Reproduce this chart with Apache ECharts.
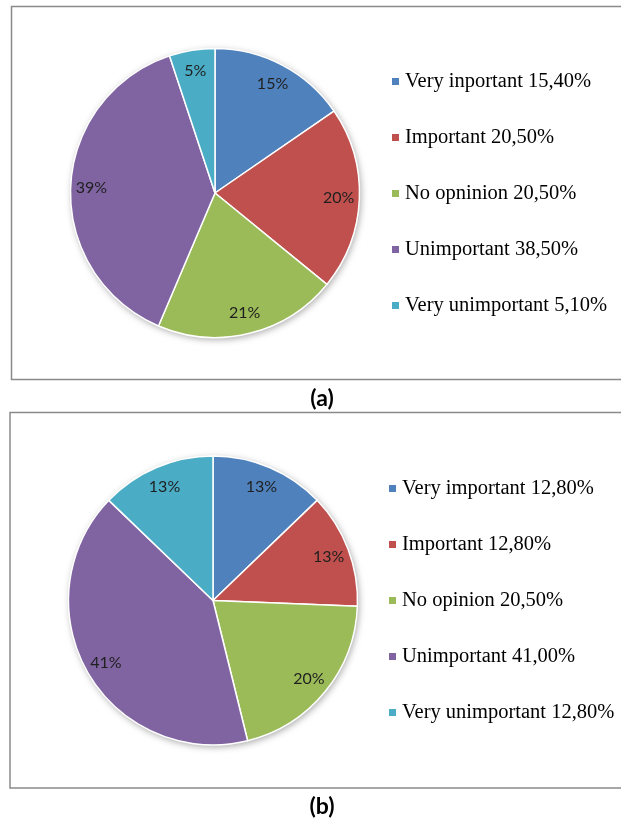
<!DOCTYPE html>
<html>
<head>
<meta charset="utf-8">
<script src="https://cdn.jsdelivr.net/npm/echarts@6/dist/echarts.min.js"></script>
<style>
  html, body { margin: 0; padding: 0; background: #ffffff; }
  #chart { width: 621px; height: 819px; }
</style>
</head>
<body>
<div id="chart"></div>
<script>
// Survey answers, panel (a)
var categoriesA = ['Very inportant', 'Important', 'No opninion', 'Unimportant', 'Very unimportant'];
var valuesA = [15.4, 20.5, 20.5, 38.5, 5.1];
var sliceLabelsA = ['15%', '20%', '21%', '39%', '5%'];

// Survey answers, panel (b)
var categoriesB = ['Very important', 'Important', 'No opinion', 'Unimportant', 'Very unimportant'];
var valuesB = [12.8, 12.8, 20.5, 41.0, 12.8];
var sliceLabelsB = ['13%', '13%', '20%', '41%', '13%'];

var captions = ['(a)', '(b)'];

var palette = ['#4F81BD', '#C0504D', '#9BBB59', '#8064A2', '#4BACC6'];

function legendName(cat, v) {
  return cat + ' ' + v.toFixed(2).replace('.', ',') + '%';
}

function buildItems(cats, vals) {
  return cats.map(function (c, i) {
    return { name: legendName(c, vals[i]), value: vals[i], itemStyle: { color: palette[i] } };
  });
}

function sum(arr) { return arr.reduce(function (a, b) { return a + b; }, 0); }

var itemsA = buildItems(categoriesA, valuesA);
var itemsB = buildItems(categoriesB, valuesB);

var R = 144.5;

function panelSeries(items, vals, labels, center) {
  return [
    // soft drop shadow under the whole pie
    {
      type: 'pie', center: center, radius: [0, R], silent: true, z: 1,
      label: { show: false }, labelLine: { show: false },
      data: [{ value: sum(vals), name: '' }],
      itemStyle: { color: '#ffffff', shadowBlur: 7, shadowColor: 'rgba(0,0,0,0.35)', shadowOffsetX: 1.5, shadowOffsetY: 2 },
      emphasis: { disabled: true }, tooltip: { show: false }
    },
    // the slices
    {
      type: 'pie', center: center, radius: [0, R], startAngle: 90, clockwise: true, z: 2,
      silent: true,
      label: { show: false }, labelLine: { show: false },
      itemStyle: { borderColor: '#ffffff', borderWidth: 1.5 },
      emphasis: { disabled: true },
      data: items
    },
    // transparent ring carrying the percentage labels near the rim
    {
      type: 'pie', center: center, radius: [97, R], startAngle: 90, clockwise: true, z: 3,
      silent: true,
      itemStyle: { color: 'rgba(0,0,0,0)' },
      emphasis: { disabled: true },
      label: {
        show: true, position: 'inside',
        fontFamily: 'Lato', fontSize: 16, color: '#1f1f1f',
        formatter: function (p) { return labels[p.dataIndex]; }
      },
      labelLine: { show: false },
      data: items.map(function (d) { return { name: d.name, value: d.value }; })
    }
  ];
}

function legendFor(items, left, top) {
  return {
    orient: 'vertical', left: left, top: top, padding: 0,
    itemWidth: 9, itemHeight: 9, itemGap: 35, icon: 'rect',
    selectedMode: false,
    textStyle: { fontFamily: 'Liberation Serif', fontSize: 20.5, color: '#000000', lineHeight: 20 },
    data: items.map(function (d) { return d.name; })
  };
}

var chart = echarts.init(document.getElementById('chart'), null, { renderer: 'canvas' });

var captionStyle = { fontFamily: 'Lato', fontWeight: 'bold', fontSize: 23, color: '#000000' };

chart.setOption({
  animation: false,
  backgroundColor: '#ffffff',
  color: palette,
  graphic: [
    { type: 'rect', shape: { x: 11.5, y: 6.5, width: 640, height: 373 }, style: { fill: 'none', stroke: '#8a8a8a', lineWidth: 1.5 }, silent: true },
    { type: 'rect', shape: { x: 10, y: 412.5, width: 640, height: 375.5 }, style: { fill: 'none', stroke: '#8a8a8a', lineWidth: 1.5 }, silent: true }
  ],
  title: [
    { text: captions[0], left: 322, top: 387, padding: 0, textAlign: 'center', textStyle: captionStyle },
    { text: captions[1], left: 322, top: 795, padding: 0, textAlign: 'center', textStyle: captionStyle }
  ],
  legend: [
    legendFor(itemsA, 390, 71),
    legendFor(itemsB, 387, 478)
  ],
  series: [].concat(
    panelSeries(itemsA, valuesA, sliceLabelsA, [215, 193]),
    panelSeries(itemsB, valuesB, sliceLabelsB, [213, 600.5])
  )
});
</script>
</body>
</html>
